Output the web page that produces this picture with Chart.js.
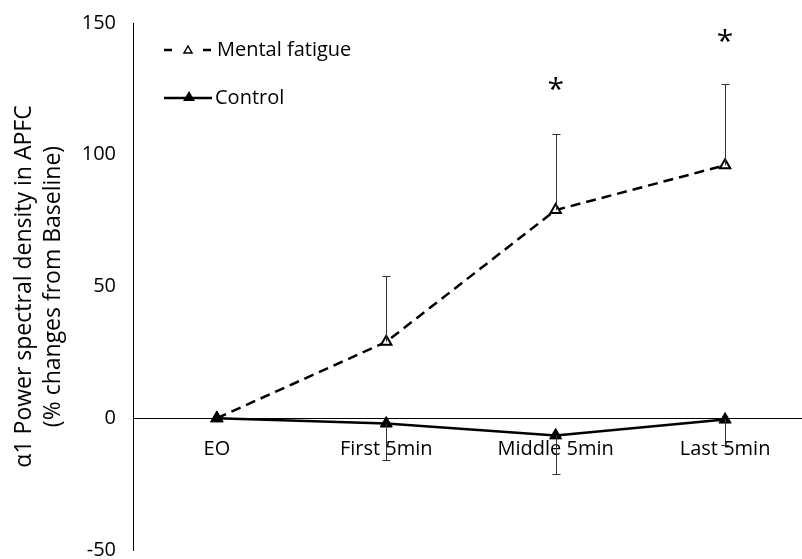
<!DOCTYPE html>
<html>
<head>
<meta charset="utf-8">
<script src="https://cdn.jsdelivr.net/npm/chart.js@4"></script>
<style>
  body { margin: 0; background: #fff; }
  #wrap { width: 802px; height: 559px; overflow: hidden; position: relative; }
  #grafico { position: absolute; left: 0; top: -6px; }
</style>
</head>
<body>
<div id="wrap"><canvas id="grafico" width="822" height="585"></canvas></div>
<script>
// dados
const categorias = ['EO', 'First 5min', 'Middle 5min', 'Last 5min'];
const fadiga = [0, 29, 79, 96];
const fadigaErro = [0, 25, 29, 31];     // barra para cima
const controle = [0, -2, -6.5, -0.5];
const controleErro = [0, 14, 14.5, 9.5]; // barra para baixo
const asteriscos = [null, null, 125, 143.5];
const yTicks = [-50, 0, 50, 100, 150];

const fonte = '"Open Sans", Lato, sans-serif';

function pontos(valores) {
    return valores.map((v, i) => ({x: i, y: v}));
}

// barras de erro, asteriscos, titulo do eixo e legenda
const extras = {
    id: 'extras',
    afterDatasetsDraw(chart) {
        const ctx = chart.ctx;
        const x = chart.scales.x;
        const y = chart.scales.y;
        ctx.save();
        ctx.strokeStyle = '#333';
        ctx.lineWidth = 1;
        const barra = (i, v, fim) => {
            const px = Math.round(x.getPixelForValue(i)) + 0.5;
            const y0 = y.getPixelForValue(v);
            const y1 = Math.round(y.getPixelForValue(fim)) + 0.5;
            ctx.beginPath();
            ctx.moveTo(px, y0);
            ctx.lineTo(px, y1);
            ctx.moveTo(px - 4, y1);
            ctx.lineTo(px + 4, y1);
            ctx.stroke();
        };
        for (let i = 1; i < categorias.length; i++) {
            barra(i, fadiga[i], fadiga[i] + fadigaErro[i]);
            barra(i, controle[i], controle[i] - controleErro[i]);
        }
        ctx.fillStyle = '#000';
        ctx.font = '30px ' + fonte;
        ctx.textAlign = 'center';
        ctx.textBaseline = 'middle';
        asteriscos.forEach((v, i) => {
            if (v !== null) ctx.fillText('*', x.getPixelForValue(i), y.getPixelForValue(v) + 2);
        });
        ctx.restore();
    },
    afterDraw(chart) {
        const ctx = chart.ctx;
        const cy = (chart.chartArea.top + chart.chartArea.bottom) / 2;
        ctx.save();
        ctx.fillStyle = '#000';
        ctx.textBaseline = 'middle';
        // titulo do eixo y
        ctx.save();
        ctx.font = '23px ' + fonte;
        ctx.translate(24, cy);
        ctx.rotate(-Math.PI / 2);
        ctx.textAlign = 'center';
        ctx.fillText('\u03b11 Power spectral density in APFC', 0, 0);
        ctx.fillText('(% changes from Baseline)', 0, 29);
        ctx.restore();

        // legenda (canvas deslocado 6px para cima)
        ctx.translate(0, 6);
        ctx.font = '20px ' + fonte;
        ctx.textAlign = 'left';
        ctx.strokeStyle = '#000';
        ctx.lineWidth = 2.5;
        ctx.beginPath();
        ctx.moveTo(164, 50); ctx.lineTo(172, 50);
        ctx.moveTo(203, 50); ctx.lineTo(211, 50);
        ctx.stroke();
        ctx.lineWidth = 1.5;
        ctx.fillStyle = '#fff';
        ctx.beginPath();
        ctx.moveTo(188, 46); ctx.lineTo(192, 53); ctx.lineTo(184, 53); ctx.closePath();
        ctx.fill(); ctx.stroke();
        ctx.fillStyle = '#000';
        ctx.fillText('Mental fatigue', 217, 50);

        ctx.lineWidth = 2.5;
        ctx.beginPath();
        ctx.moveTo(164, 98); ctx.lineTo(212, 98);
        ctx.stroke();
        ctx.beginPath();
        ctx.moveTo(189, 91); ctx.lineTo(195, 101); ctx.lineTo(183, 101); ctx.closePath();
        ctx.fill();
        ctx.fillText('Control', 215, 98);
        ctx.restore();
    }
};

const ctx = document.getElementById('grafico').getContext('2d');

new Chart(ctx, {
    type: 'line',
    data: {
        datasets: [{
            label: 'Control',
            data: pontos(controle),
            borderColor: '#000',
            backgroundColor: '#000',
            borderWidth: 2.5,
            pointStyle: 'triangle',
            pointRadius: 7,
            pointBorderWidth: 1,
            tension: 0
        }, {
            label: 'Mental fatigue',
            data: pontos(fadiga),
            borderColor: '#000',
            backgroundColor: '#fff',
            borderWidth: 2.5,
            borderDash: [10, 6],
            pointStyle: 'triangle',
            pointRadius: 6,
            pointBorderWidth: 2,
            tension: 0
        }]
    },
    options: {
        responsive: false,
        animation: false,
        layout: { padding: { left: 0, right: 0, top: 6, bottom: 0 } },
        plugins: {
            legend: { display: false },
            tooltip: { enabled: false }
        },
        scales: {
            x: {
                type: 'linear',
                min: -0.495,
                max: 3.525,
                position: { y: 0 },
                grid: { display: false, drawTicks: false },
                border: { color: '#000', width: 1 },
                afterBuildTicks: axis => { axis.ticks = categorias.map((_, i) => ({value: i})); },
                ticks: {
                    padding: 19,
                    color: '#000',
                    font: { family: fonte, size: 20 },
                    callback: v => categorias[v] ?? ''
                }
            },
            y: {
                min: -50,
                max: 150,
                afterBuildTicks: axis => { axis.ticks = yTicks.map(v => ({value: v})); },
                afterFit: axis => { axis.width = 133; },
                grid: { display: false, drawTicks: false },
                border: { color: '#000', width: 1 },
                ticks: {
                    padding: 17,
                    color: '#000',
                    font: { family: fonte, size: 20 }
                }
            }
        }
    },
    plugins: [extras]
});
</script>
</body>
</html>
